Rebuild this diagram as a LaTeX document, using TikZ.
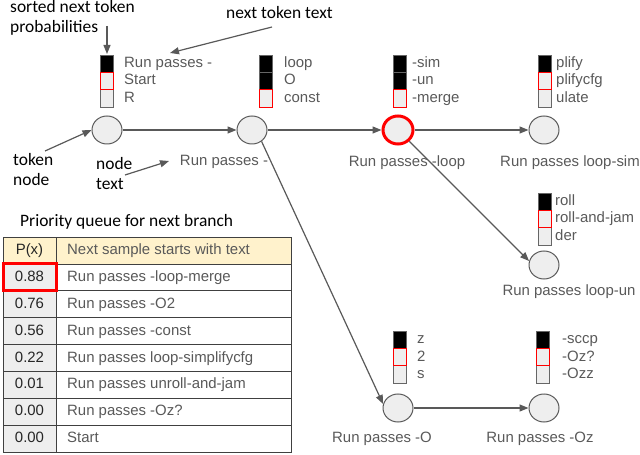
\documentclass[tikz,border=0pt]{standalone}
\usepackage{fontspec}
\setmainfont{Liberation Sans}
\newfontfamily\annfont{Carlito}
\usetikzlibrary{shapes.geometric,arrows.meta}
\definecolor{edgegray}{HTML}{595959}
\definecolor{txtgray}{HTML}{595959}
\definecolor{cellgray}{HTML}{EEEEEE}
\definecolor{bordgray}{HTML}{666666}
\definecolor{hdryellow}{HTML}{FFF2CC}
\definecolor{tblline}{HTML}{404040}
\definecolor{numtxt}{HTML}{262626}
\definecolor{brightred}{HTML}{FF0000}
\tikzset{
  tok/.style={ellipse, draw=edgegray, fill=cellgray, line width=1bp, minimum width=30bp, minimum height=28bp, inner sep=0pt},
  arr/.style={draw=edgegray, line width=1.2bp, -{Triangle[length=9bp,width=7bp]}},
  lbl/.style={text=txtgray, font=\fontsize{15}{18}\selectfont, inner sep=0pt, text height=11bp, text depth=3bp},
  numlbl/.style={text=numtxt, font=\fontsize{15}{18}\selectfont, inner sep=0pt, text height=11bp, text depth=3bp},
  ann/.style={text=black, font=\annfont\fontsize{17.5}{20.5}\selectfont, inner sep=0pt, align=left},
  cellbox/.style={draw=bordgray, line width=0.8bp},
}
\newcommand{\tokbar}[4]{% x, ytop, number of black cells, index of red cell
  \foreach \k in {1,2,3}{%
    \ifnum\k>#3\relax\def\cf{cellgray}\else\def\cf{black}\fi
    \draw[cellbox, fill=\cf] (#1,{#2+(\k-1)*17.33}) rectangle ++(13,17.33);
  }
  \draw[draw=brightred, line width=0.8bp] (#1,{#2+(#4-1)*17.33}) rectangle ++(13,17.33);
}
\newcommand{\toktexts}[6]{% name, x, ytop, three texts
  \node[lbl, anchor=west] (#1a) at (#2,#3+8.67) {#4};
  \node[lbl, anchor=west] (#1b) at (#2,#3+26) {#5};
  \node[lbl, anchor=west] (#1c) at (#2,#3+43.33) {#6};
}
\begin{document}
\begin{tikzpicture}[x=1bp,y=-1bp]
\useasboundingbox (0,0) rectangle (640,455);

% token nodes
\node[tok] (n1) at (107,130) {};
\node[tok] (n2) at (252,130) {};
\node[tok, draw=brightred, line width=3bp] (n3) at (398,130) {};
\node[tok] (n4) at (544,130) {};
\node[tok] (n5) at (544,265) {};
\node[tok] (n6) at (398,408) {};
\node[tok] (n7) at (544,408) {};

% node texts
\node[lbl] (l2) at (224,162) {Run passes -};
\node[lbl] (l3) at (407,163) {Run passes -loop};
\node[lbl] (l4) at (570,163) {Run passes loop-sim};
\node[lbl] (l5) at (569,292) {Run passes loop-un};
\node[lbl] (l6) at (382,438) {Run passes -O};
\node[lbl] (l7) at (540,438) {Run passes -Oz};

% edges
\draw[arr] (n1) -- (n2);
\draw[arr] (n2) -- (n3);
\draw[arr] (n3) -- (n4);
\draw[arr] (n3.-45) -- (n5.165);
\draw[arr] (n2.-50) -- (n6.165);
\draw[arr] (n6) -- (n7);

% probability bars
\tokbar{100}{55}{1}{2}
\tokbar{259}{55}{2}{3}
\tokbar{393}{55}{2}{3}
\tokbar{538}{55}{1}{2}
\tokbar{538}{193}{1}{2}
\tokbar{393}{331}{1}{2}
\tokbar{536}{331}{1}{2}
\toktexts{b1}{124}{55}{Run passes -}{Start}{R}
\toktexts{b2}{284}{55}{loop}{O}{const}
\toktexts{b3}{412}{55}{-sim}{-un}{-merge}
\toktexts{b4}{556}{55}{plify}{plifycfg}{ulate}
\toktexts{b5}{555}{193}{roll}{roll-and-jam}{der}
\toktexts{b6}{417}{331}{z}{2}{s}
\toktexts{b7}{562}{331}{-sccp}{-Oz?}{-Ozz}

% annotations
\node[ann, anchor=north west] (asorted) at (10,0) {sorted next token\\probabilities};
\node[ann, anchor=north west] (anext) at (226,6) {next token text};
\node[ann, anchor=north west] (atoken) at (13,153) {token\\node};
\node[ann, anchor=north west] (anode) at (96,157) {node\\text};
\coordinate (s1) at (107,26);
\coordinate (s1e) at (107,54);
\coordinate (t1) at (272,27);
\coordinate (t1e) at (170,53);
\coordinate (k1) at (45,151);
\coordinate (d1) at (125,175);
\coordinate (d1e) at (169,161);
\draw[arr] (s1) -- (s1e);
\draw[arr] (t1) -- (t1e);
\draw[arr] (k1) -- (n1.west);
\draw[arr] (d1) -- (d1e);

% priority queue table
\node[ann, anchor=base west] (qtitle) at (20,227) {Priority queue for next branch};
\draw[draw=tblline, line width=0.8bp, fill=hdryellow] (3,237) rectangle (56,264);
\draw[draw=tblline, line width=0.8bp, fill=hdryellow] (56,237) rectangle (291,264);
\node[numlbl] (ph) at (29.5,250.5) {P(x)};
\node[lbl, anchor=west] (th) at (67,250.5) {Next sample starts with text};
\foreach \p/\t [count=\i] in {0.88/Run passes -loop-merge, 0.76/Run passes -O2, 0.56/Run passes -const, 0.22/Run passes loop-simplifycfg, 0.01/Run passes unroll-and-jam, 0.00/Run passes -Oz?, 0.00/Start}{
  \draw[draw=tblline, line width=0.8bp, fill=cellgray] (3,{264+(\i-1)*26.857}) rectangle (56,{264+\i*26.857});
  \draw[draw=tblline, line width=0.8bp, fill=white] (56,{264+(\i-1)*26.857}) rectangle (291,{264+\i*26.857});
  \node[numlbl] (p\i) at (29.5,{264+(\i-0.5)*26.857}) {\p};
  \node[lbl, anchor=west] (q\i) at (67,{264+(\i-0.5)*26.857}) {\t};
}
\draw[draw=brightred, line width=3bp] (3.5,264) rectangle (56,291);
\end{tikzpicture}
\end{document}
